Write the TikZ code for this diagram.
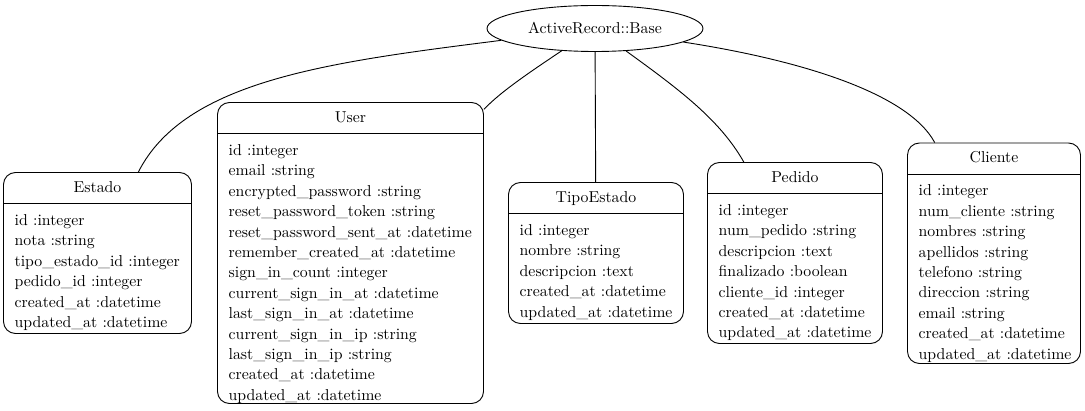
\documentclass[tikz,border=0pt]{standalone}
\usepackage{fontspec}
\setmainfont{lmroman10-regular.otf}
\usetikzlibrary{shapes.geometric}
\tikzset{
  tbl/.style={draw, rounded corners=12pt, inner sep=0pt, line width=0.9pt},
  conn/.style={draw, line width=0.9pt},
  basenode/.style={draw, ellipse, line width=0.9pt, inner sep=0pt, minimum width=216pt, minimum height=46pt},
  fld/.style={anchor=base west, inner sep=0pt},
  hdr/.style={anchor=base, inner sep=0pt}
}
\newcommand\erdtable[7]{%
  \node[tbl, minimum width={(#4)-(#2)}, minimum height={(#5)-(#3)}] (#1) at ({((#2)+(#4))/2},{((#3)+(#5))/2}) {};
  \node[hdr] (#1-h) at ({((#2)+(#4))/2},{(#3)+20}) {#6};
  \draw[line width=0.9pt] ({#2},{(#3)+31}) -- ({#4},{(#3)+31});
  \foreach \f [count=\i] in {#7} {
    \node[fld] (#1-\i) at ({(#2)+11},{(#3)+53+20.4*(\i-1)}) {\f};
  }%
}
\begin{document}
\begin{tikzpicture}[x=1pt,y=-1pt,font=\fontsize{15.8}{20}\selectfont]
\useasboundingbox (0,0) rectangle (1085,411);
\node[basenode] (base) at (595,28.5) {ActiveRecord::Base};

\erdtable{estado}{3.5}{172.5}{191.5}{333.5}{Estado}{id :integer,nota :string,tipo\_estado\_id :integer,pedido\_id :integer,created\_at :datetime,updated\_at :datetime}
\erdtable{user}{217.5}{102.5}{483.5}{403.5}{User}{id :integer,email :string,encrypted\_password :string,reset\_password\_token :string,reset\_password\_sent\_at :datetime,remember\_created\_at :datetime,sign\_in\_count :integer,current\_sign\_in\_at :datetime,last\_sign\_in\_at :datetime,current\_sign\_in\_ip :string,last\_sign\_in\_ip :string,created\_at :datetime,updated\_at :datetime}
\erdtable{tipo}{508.5}{182.5}{683.5}{323.5}{TipoEstado}{id :integer,nombre :string,descripcion :text,created\_at :datetime,updated\_at :datetime}
\erdtable{pedido}{707.5}{162.5}{882.5}{343.5}{Pedido}{id :integer,num\_pedido :string,descripcion :text,finalizado :boolean,cliente\_id :integer,created\_at :datetime,updated\_at :datetime}
\erdtable{cliente}{907.5}{143}{1080.5}{363.5}{Cliente}{id :integer,num\_cliente :string,nombres :string,apellidos :string,telefono :string,direccion :string,email :string,created\_at :datetime,updated\_at :datetime}

\path[conn] (base) .. controls (330,62) and (185,80) .. (estado);
\path[conn] (base) .. controls (533,70) and (500,92) .. (user);
\path[conn] (base) -- (tipo);
\path[conn] (base) .. controls (680,90) and (720,120) .. (pedido);
\path[conn] (base) .. controls (800,60) and (908,93) .. (cliente);
\end{tikzpicture}
\end{document}
